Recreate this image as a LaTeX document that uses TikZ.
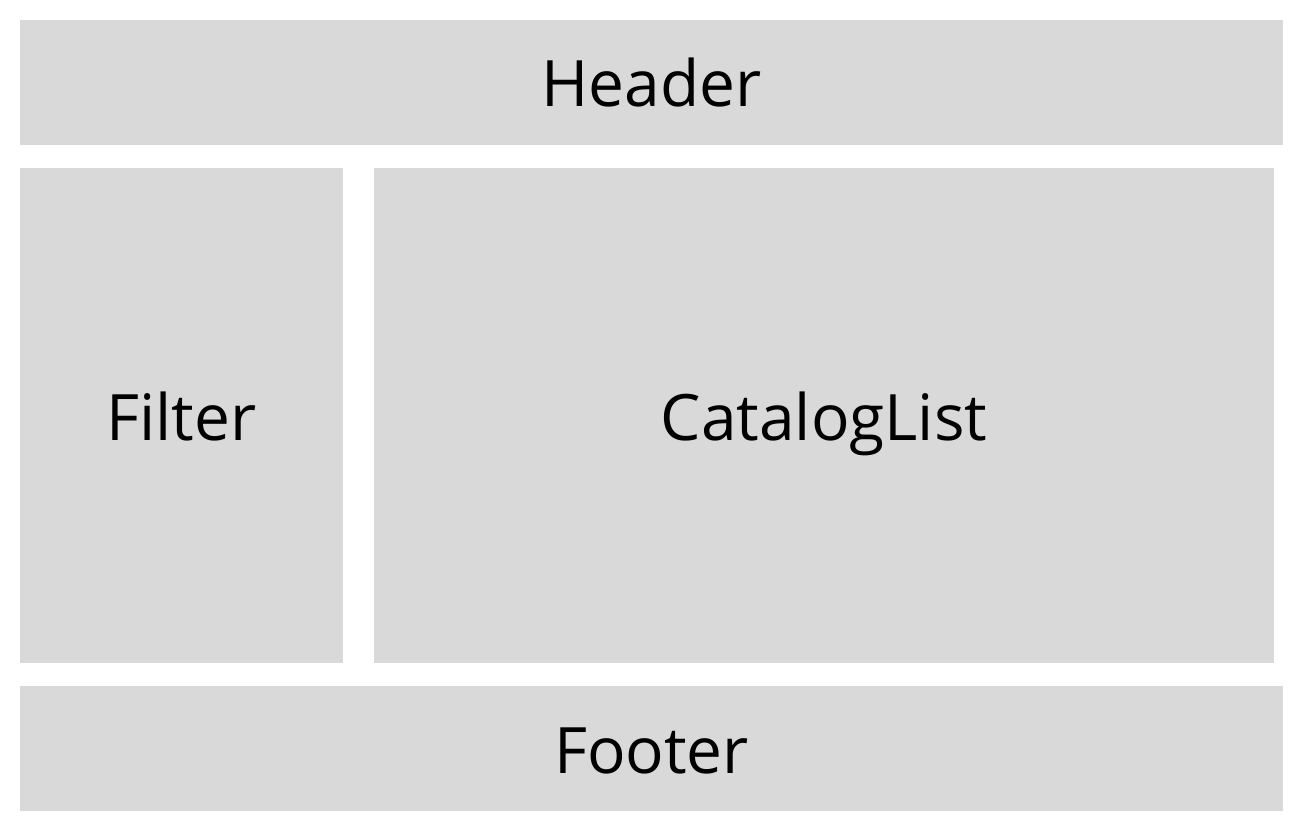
\documentclass[tikz,border=0pt]{standalone}
\usepackage{fontspec}
\setmainfont{Open Sans}
\definecolor{boxgray}{HTML}{D9D9D9}
\begin{document}
\begin{tikzpicture}[x=1pt,y=-1pt,
  panel/.style={fill=boxgray,draw=none,inner sep=0pt},
  lbl/.style={font=\fontsize{64}{64}\selectfont,text=black,anchor=base,inner sep=0pt}]
\useasboundingbox (0,0) rectangle (1303,832);
\fill[white] (0,0) rectangle (1303,832);
\path[panel] (20,20) rectangle (1283,145);
\path[panel] (20,168) rectangle (343,663);
\path[panel] (374,168) rectangle (1274,663);
\path[panel] (20,686) rectangle (1283,811);
\node[lbl] (header) at (651.5,107) {Header};
\node[lbl] (filter) at (181.5,440) {Filter};
\node[lbl] (catalog) at (824,440) {CatalogList};
\node[lbl] (footer) at (651.5,773) {Footer};
\end{tikzpicture}
\end{document}
